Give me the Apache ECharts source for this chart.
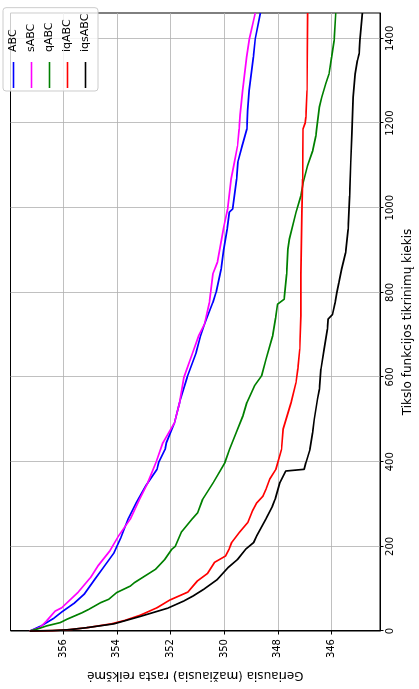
<!DOCTYPE html>
<html>
<head>
<meta charset="utf-8">
<script src="https://cdn.jsdelivr.net/npm/echarts@6/dist/echarts.min.js"></script>
<style>
  html, body { margin: 0; padding: 0; background: #fff; }
  body { width: 419px; height: 689px; overflow: hidden; position: relative; }
  #chart {
    position: absolute; left: 0; top: 0;
    width: 689px; height: 419px;
    transform-origin: 0 0;
    transform: translateY(689px) rotate(-90deg);
  }
</style>
</head>
<body>
<div id="chart"></div>
<script>
// Series names
const seriesNames = ['ABC', 'sABC', 'qABC', 'iqABC', 'iqsABC'];
const seriesColors = ['#0000ff', '#ff00ff', '#008000', '#ff0000', '#000000'];

// Tick values
const evalTicks = [0, 200, 400, 600, 800, 1000, 1200, 1400];
const valueTicks = [346, 348, 350, 352, 354, 356];

// [evaluations, best value]
const ABC = [[0,357.24],[12,356.82],[30,356.35],[45,356.05],[65,355.6],[88,355.2],[122,354.82],[150,354.5],[185,354.1],[220,353.85],[264,353.58],[303,353.27],[343,352.92],[382,352.5],[400,352.43],[429,352.2],[445,352.15],[492,351.85],[540,351.66],[599,351.38],[658,351.04],[697,350.88],[725,350.73],[776,350.42],[800,350.3],[855,350.11],[900,350.02],[949,349.89],[990,349.8],[997,349.68],[1068,349.53],[1107,349.49],[1146,349.33],[1186,349.15],[1230,349.12],[1277,349.07],[1356,348.91],[1399,348.84],[1460,348.65]];
const sABC = [[0,357.24],[8,356.87],[25,356.6],[47,356.3],[55,356.05],[91,355.45],[126,354.98],[154,354.7],[189,354.26],[225,353.93],[264,353.5],[311,353.15],[351,352.84],[400,352.53],[445,352.28],[492,351.85],[540,351.66],[599,351.5],[658,351.17],[697,350.95],[725,350.73],[776,350.55],[800,350.5],[843,350.42],[871,350.25],[949,350.03],[997,349.87],[1068,349.74],[1107,349.62],[1146,349.5],[1186,349.44],[1220,349.4],[1277,349.31],[1356,349.16],[1399,349.06],[1460,348.84]];
const qABC = [[0,357.24],[6,356.9],[12,356.62],[20,356.1],[28,355.85],[43,355.3],[51,355.05],[67,354.6],[75,354.3],[91,354.0],[106,353.5],[114,353.35],[146,352.55],[170,352.2],[193,351.95],[200,351.82],[233,351.6],[264,351.2],[280,350.98],[311,350.8],[351,350.4],[398,349.97],[429,349.8],[469,349.55],[508,349.3],[540,349.15],[579,348.87],[603,348.6],[642,348.44],[697,348.19],[740,348.08],[772,348.01],[784,347.76],[843,347.67],[902,347.62],[926,347.57],[989,347.32],[1028,347.14],[1060,347.05],[1099,346.89],[1134,346.7],[1170,346.58],[1186,346.55],[1238,346.45],[1261,346.36],[1293,346.21],[1316,346.09],[1356,345.99],[1395,345.9],[1460,345.84]];
const iqABC = [[0,357.24],[1,356.4],[3,355.8],[8,355.1],[17,354.2],[25,353.7],[38,353.1],[55,352.5],[73,352.03],[92,351.35],[118,351.0],[136,350.62],[162,350.36],[177,349.95],[193,349.82],[209,349.72],[233,349.43],[256,349.12],[284,348.94],[303,348.78],[319,348.55],[335,348.44],[359,348.3],[382,348.07],[429,347.86],[477,347.8],[540,347.5],[587,347.32],[620,347.25],[666,347.18],[745,347.14],[843,347.14],[989,347.1],[1068,347.07],[1186,347.06],[1200,346.98],[1214,346.95],[1277,346.91],[1460,346.89]];
const iqsABC = [[0,357.24],[1,356.4],[3,355.8],[8,355.1],[17,354.1],[35,353.1],[54,352.1],[71,351.5],[83,351.15],[99,350.75],[122,350.25],[150,349.85],[169,349.5],[193,349.2],[209,348.9],[225,348.78],[264,348.45],[295,348.2],[311,348.1],[351,347.92],[378,347.7],[382,347.02],[398,346.95],[429,346.8],[469,346.7],[500,346.64],[548,346.52],[571,346.45],[619,346.39],[666,346.27],[713,346.15],[737,346.12],[748,345.96],[776,345.86],[800,345.8],[823,345.72],[855,345.62],[894,345.47],[949,345.38],[1028,345.32],[1107,345.28],[1175,345.24],[1261,345.19],[1316,345.12],[1348,345.03],[1364,344.97],[1395,344.94],[1460,344.85]];

const allData = [ABC, sABC, qABC, iqABC, iqsABC];

const FONT = 'DejaVu Sans';
const chart = echarts.init(document.getElementById('chart'), null, { renderer: 'canvas' });

const option = {
  animation: false,
  backgroundColor: '#ffffff',
  grid: {
    left: 57.3, right: 13, top: 10.5, bottom: 38,
    show: true, borderColor: '#000', borderWidth: 1, backgroundColor: 'transparent'
  },
  legend: {
    orient: 'vertical',
    left: 598, top: 3,
    padding: [4, 6, 6, 3],
    icon: 'rect',
    itemWidth: 26, itemHeight: 1.6, itemGap: 5,
    backgroundColor: 'rgba(255,255,255,0.8)',
    borderColor: '#cccccc', borderWidth: 1, borderRadius: 3,
    textStyle: { fontFamily: FONT, fontSize: 11, color: '#000', padding: [0, 0, 0, 5], lineHeight: 13 },
    data: seriesNames
  },
  xAxis: {
    type: 'value', min: 0, max: 1460,
    name: 'Tikslo funkcijos tikrinimų kiekis',
    nameLocation: 'middle', nameGap: 22,
    nameTextStyle: { fontFamily: FONT, fontSize: 12, color: '#000' },
    axisLine: { show: true, lineStyle: { color: '#000', width: 1 } },
    axisTick: { show: true, length: 3.5, lineStyle: { color: '#000', width: 1 }, customValues: evalTicks },
    axisLabel: { fontFamily: FONT, fontSize: 10, color: '#000', margin: 5, customValues: evalTicks,
                 formatter: v => String(v) },
    splitLine: { show: true, lineStyle: { color: '#b0b0b0', width: 0.8 } }
  },
  yAxis: {
    type: 'value', min: 344.19, max: 357.96,
    name: 'Geriausia (mažiausia) rasta reikšmė',
    nameLocation: 'middle', nameGap: 37, nameRotate: 90,
    nameTextStyle: { fontFamily: FONT, fontSize: 12, color: '#000' },
    axisLine: { show: true, lineStyle: { color: '#000', width: 1 } },
    axisTick: { show: true, length: 3.5, lineStyle: { color: '#000', width: 1 }, customValues: valueTicks },
    axisLabel: { fontFamily: FONT, fontSize: 10, color: '#000', margin: 8, customValues: valueTicks,
                 formatter: v => String(v) },
    splitLine: { show: true, lineStyle: { color: '#b0b0b0', width: 0.8 } }
  },
  series: seriesNames.map((name, i) => ({
    name: name,
    type: 'line',
    data: allData[i],
    symbol: 'none',
    showSymbol: false,
    clip: true,
    color: seriesColors[i],
    itemStyle: { color: seriesColors[i] },
    lineStyle: { color: seriesColors[i], width: 1.7 },
    z: 2 + i
  }))
};
chart.setOption(option);
</script>
</body>
</html>
